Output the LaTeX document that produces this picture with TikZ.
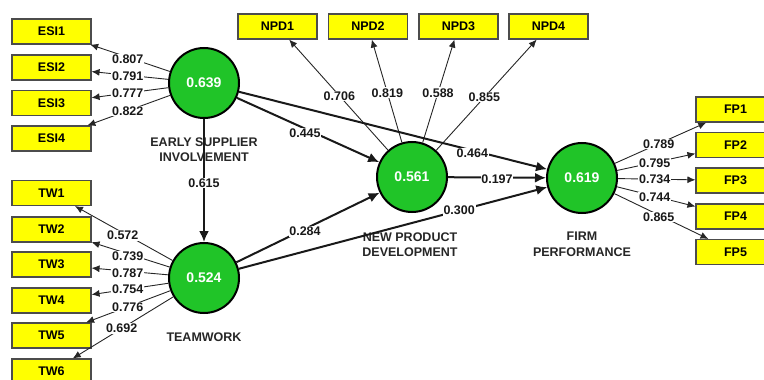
\documentclass[tikz,border=0pt]{standalone}
\usepackage{fontspec}
\setmainfont{Liberation Sans}
\usetikzlibrary{calc,arrows.meta}
\definecolor{lvgreen}{RGB}{32,196,40}
\definecolor{indyellow}{RGB}{255,255,0}
\begin{document}
\begin{tikzpicture}[x=1pt,y=-1pt,
  ind/.style={draw=black!70, fill=indyellow, line width=1.1pt, minimum width=79pt, minimum height=25pt, inner sep=0pt, font=\bfseries\fontsize{12.5}{12.5}\selectfont},
  lv/.style={circle, draw=black, line width=2pt, fill=lvgreen, minimum size=70pt, inner sep=0pt, text=white, font=\bfseries\fontsize{14}{14}\selectfont},
  lbl/.style={fill=white, inner sep=0.8pt, text=black!90, font=\bfseries\fontsize{12.5}{12.5}\selectfont},
  lvname/.style={align=center, text=black!85, font=\bfseries\fontsize{12.5}{15.5}\selectfont},
  sp/.style={line width=2pt, black!90, -{Latex[length=11pt,width=10pt]}},
  ld/.style={line width=0.9pt, black!85, -{Latex[length=8pt,width=7pt]}},
]
\useasboundingbox (0,0) rectangle (764,380);
\clip (0,0) rectangle (764,380);

% latent variables
\node[lv] (esi) at (204,83) {0.639};
\node[lv] (tw)  at (204,278) {0.524};
\node[lv] (npd) at (412,177) {0.561};
\node[lv] (fp)  at (582,178) {0.619};

% names
\node[lvname] (esiname) at (204,149.5) {EARLY SUPPLIER\\INVOLVEMENT};
\node[lvname] (twname)  at (204,337) {TEAMWORK};
\node[lvname] (npdname) at (410,244.5) {NEW PRODUCT\\DEVELOPMENT};
\node[lvname] (fpname)  at (582,244.5) {FIRM\\PERFORMANCE};

% indicators
\node[ind] (e1) at (51.5,31.5) {ESI1};
\node[ind] (e2) at (51.5,67.5) {ESI2};
\node[ind] (e3) at (51.5,103) {ESI3};
\node[ind] (e4) at (51.5,138.5) {ESI4};

\node[ind] (t1) at (51.5,193) {TW1};
\node[ind] (t2) at (51.5,229.5) {TW2};
\node[ind] (t3) at (51.5,264.5) {TW3};
\node[ind] (t4) at (51.5,300.5) {TW4};
\node[ind] (t5) at (51.5,335.5) {TW5};
\node[ind] (t6) at (51.5,371.5) {TW6};

\node[ind] (n1) at (277.5,26.5) {NPD1};
\node[ind] (n2) at (368,26.5) {NPD2};
\node[ind] (n3) at (458.5,26.5) {NPD3};
\node[ind] (n4) at (548.5,26.5) {NPD4};

\node[ind] (f1) at (735.5,109.5) {FP1};
\node[ind] (f2) at (735.5,145) {FP2};
\node[ind] (f3) at (735.5,180.5) {FP3};
\node[ind] (f4) at (735.5,216.5) {FP4};
\node[ind] (f5) at (735.5,252) {FP5};

% indicator arrows
\foreach \b in {e1,e2,e3,e4} \draw[ld] (esi) -- (\b);
\foreach \b in {t1,t2,t3,t4,t5,t6} \draw[ld] (tw) -- (\b);
\foreach \b in {n1,n2,n3,n4} \draw[ld] (npd) -- (\b);
\foreach \b in {f1,f2,f3,f4,f5} \draw[ld] (fp) -- (\b);

% structural paths
\draw[sp] (esi) -- (tw);
\draw[sp] (esi) -- (npd);
\draw[sp] (esi) -- (fp);
\draw[sp] (tw) -- (npd);
\draw[sp] (tw) -- (fp);
\draw[sp] (npd) -- (fp);

% loadings
\node[lbl] at ($(esi)!.5!(e1)$) [yshift=-2pt] {0.807};
\node[lbl] at ($(esi)!.5!(e2)$) [yshift=-1pt] {0.791};
\node[lbl] at ($(esi)!.5!(e3)$) {0.777};
\node[lbl] at ($(esi)!.5!(e4)$) {0.822};

\node[lbl] at ($(tw)!.5!(t1)$) [xshift=-5pt] {0.572};
\node[lbl] at ($(tw)!.5!(t2)$) [yshift=-2pt] {0.739};
\node[lbl] at ($(tw)!.5!(t3)$) [yshift=-2pt] {0.787};
\node[lbl] at ($(tw)!.5!(t4)$) {0.754};
\node[lbl] at ($(tw)!.5!(t5)$) {0.776};
\node[lbl] at ($(tw)!.54!(t6)$) {0.692};

\node[lbl] at ($(npd)!.54!(n1)$) {0.706};
\node[lbl] at ($(npd)!.56!(n2)$) {0.819};
\node[lbl] at ($(npd)!.56!(n3)$) {0.588};
\node[lbl] at ($(npd)!.53!(n4)$) {0.855};

\node[lbl] at ($(fp)!.5!(f1)$) {0.789};
\node[lbl] at ($(fp)!.5!(f2)$) [xshift=-4pt,yshift=-1.5pt] {0.795};
\node[lbl] at ($(fp)!.5!(f3)$) [xshift=-4pt] {0.734};
\node[lbl] at ($(fp)!.5!(f4)$) [xshift=-4pt] {0.744};
\node[lbl] at ($(fp)!.5!(f5)$) [yshift=-2pt] {0.865};

% path coefficients
\node[lbl] at ($(esi)!.5!(tw)$) [yshift=-2.5pt] {0.615};
\node[lbl] at ($(esi)!.5!(npd)$) [xshift=-3pt,yshift=-3pt] {0.445};
\node[lbl] at ($(esi)!.71!(fp)$) [yshift=-3pt] {0.464};
\node[lbl] at ($(tw)!.5!(npd)$) [xshift=-3pt,yshift=-4pt] {0.284};
\node[lbl] at ($(tw)!.675!(fp)$) {0.300};
\node[lbl] at ($(npd)!.5!(fp)$) [yshift=-2pt] {0.197};
\end{tikzpicture}
\end{document}
